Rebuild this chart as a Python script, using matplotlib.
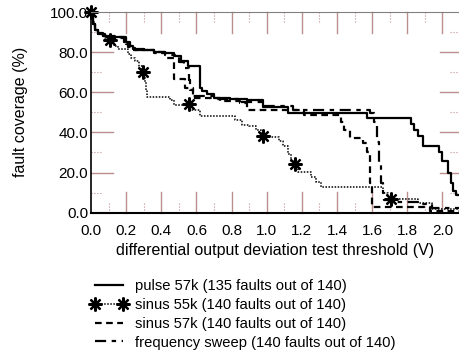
import numpy as np
import matplotlib
matplotlib.use("Agg")
import matplotlib.pyplot as plt
import matplotlib.transforms as mtransforms

plt.rcParams['font.family'] = ['Liberation Sans', 'DejaVu Sans']

# pulse 57k (solid)
pulse_x = [0, 0.01, 0.02, 0.04, 0.07, 0.11, 0.2, 0.22, 0.24, 0.3, 0.36, 0.42, 0.47, 0.51,
           0.55, 0.62, 0.63, 0.66, 0.7, 0.79, 0.89, 0.98, 1.12, 1.57, 1.82, 1.84, 1.86,
           1.89, 1.98, 2.0, 2.03, 2.05, 2.06, 2.08, 2.1]
pulse_y = [100, 94, 91, 89, 88, 87.5, 85, 83, 81.5, 81, 80, 79.5, 78, 75.5,
           73, 62, 60.5, 59, 57, 56.7, 56, 52.7, 49.7, 47, 44, 41.3, 38,
           33, 30, 26, 20, 15, 11, 9, 9]

# sinus 55k (dotted, stars)
s55_x = [0, 0.01, 0.02, 0.04, 0.08, 0.11, 0.13, 0.155, 0.21, 0.23, 0.25, 0.27, 0.29, 0.3,
         0.305, 0.31, 0.317, 0.45, 0.47, 0.56, 0.62, 0.82, 0.86, 0.9, 0.94, 0.97, 1.02,
         1.07, 1.095, 1.12, 1.14, 1.16, 1.18, 1.25, 1.28, 1.31, 1.66, 1.69, 1.71, 1.86,
         1.94, 2.1]
s55_y = [100, 95, 91, 89, 87, 85.5, 83, 81.4, 79, 77, 75.5, 73, 70.3, 68,
         65, 61, 57.5, 56.3, 53.8, 51.3, 48.3, 46.3, 43.8, 43, 41.3, 38.3, 37.5,
         35.5, 33, 29, 26, 24.3, 20.5, 18, 15.5, 12.7, 10, 8, 6.7, 4.7,
         1.7, 1.7]
star_x = [0.0, 0.11, 0.295, 0.56, 0.98, 1.16, 1.71]
star_y = [100, 85.8, 70.3, 54, 38.3, 24.3, 6.8]

# sinus 57k (dashed)
s57_x = [0, 0.01, 0.02, 0.04, 0.08, 0.13, 0.2, 0.22, 0.25, 0.36, 0.43, 0.47, 0.535, 0.58,
         0.735, 0.85, 0.89, 1.21, 1.42, 1.44, 1.475, 1.55, 1.57, 1.59, 1.6, 1.93, 2.1]
s57_y = [100, 94, 91, 89, 88, 87, 84, 82, 81, 79.5, 77, 66.5, 62.2, 57.2,
         55.5, 54.7, 51.3, 48.8, 45, 41, 37.2, 34.8, 30, 15, 3, 1, 1]

# frequency sweep (dash-dot)
sweep_x = [0, 0.01, 0.02, 0.04, 0.07, 0.12, 0.19, 0.21, 0.24, 0.36, 0.42, 0.5, 0.53, 0.555,
           0.565, 0.58, 0.7, 0.85, 0.98, 1.15, 1.59, 1.61, 1.63, 1.64, 1.65, 1.66, 1.67,
           1.7, 1.88, 1.94, 2.1]
sweep_y = [100, 95, 92, 89.5, 88, 87.5, 85, 82.5, 81, 80, 78.5, 75, 72, 66,
           61, 58, 56.7, 55, 53, 51.3, 49.7, 45, 35, 25, 15, 10, 6.5,
           5.5, 4.5, 2.2, 2.2]

labels = ["pulse 57k (135 faults out of 140)",
          "sinus 55k (140 faults out of 140)",
          "sinus 57k (140 faults out of 140)",
          "frequency sweep (140 faults out of 140)"]

fig = plt.figure(figsize=(4.6, 3.53), dpi=100)
ax = fig.add_axes([0.198, 0.3975, 0.802, 0.5685])

tick_c = '#bc8f8f'
ax.set_xlim(0, 2.1)
ax.set_ylim(0, 100)

# major/minor tick positions
xmaj = np.arange(0.2, 2.01, 0.2)
xmin = np.arange(0.1, 2.01, 0.2)
ymaj = np.arange(20, 81, 20)
ymin = np.arange(10, 91, 20)
ax.set_xticks(np.arange(0, 2.01, 0.2))
ax.set_yticks(np.arange(0, 101, 20))
ax.set_xticklabels(["%.1f" % v for v in np.arange(0, 2.01, 0.2)])
ax.set_yticklabels(["%.1f" % v for v in np.arange(0, 101, 20)])
ax.tick_params(length=0, labelsize=11)
ax.tick_params(axis='x', pad=8)
ax.tick_params(axis='y', pad=2)

# hand drawn inward ticks (major solid, minor dotted)
tx = mtransforms.blended_transform_factory(ax.transData, ax.transAxes)
ty = mtransforms.blended_transform_factory(ax.transAxes, ax.transData)
for v in xmaj:
    ax.plot([v, v], [0, 0.105], color=tick_c, lw=1, transform=tx, clip_on=False)
    ax.plot([v, v], [1, 0.895], color=tick_c, lw=1, transform=tx, clip_on=False)
for v in xmin:
    ax.plot([v, v], [0, 0.055], color=tick_c, lw=0.8, ls=':', transform=tx)
    ax.plot([v, v], [1, 0.945], color=tick_c, lw=0.8, ls=':', transform=tx)
for v in ymaj:
    ax.plot([0, 0.06], [v, v], color=tick_c, lw=1, transform=ty)
    ax.plot([1, 0.945], [v, v], color=tick_c, lw=1, transform=ty)
for v in ymin:
    ax.plot([0, 0.03], [v, v], color=tick_c, lw=0.8, ls=':', transform=ty)
    ax.plot([1, 0.97], [v, v], color=tick_c, lw=0.8, ls=':', transform=ty)
ax.plot([0, 0.06], [0, 0], color=tick_c, lw=1.5, transform=ty, clip_on=False)

ax.spines['top'].set_color('#808080')
ax.spines['right'].set_visible(False)
ax.spines['left'].set_linewidth(1.2)
ax.spines['bottom'].set_linewidth(1.5)

l1, = ax.plot(pulse_x, pulse_y, drawstyle='steps-post', color='black', lw=1.6)
l2, = ax.plot(s55_x, s55_y, drawstyle='steps-post', color='black', lw=1.1, ls=(0, (1, 1)))
ax.plot(star_x, star_y, ls='none', marker=(8, 2, 0), ms=10, mew=1.6, color='black',
        clip_on=False)
l3, = ax.plot(s57_x, s57_y, drawstyle='steps-post', color='black', lw=1.6, ls=(0, (3, 2)))
l4, = ax.plot(sweep_x, sweep_y, drawstyle='steps-post', color='black', lw=1.6,
              ls=(0, (5, 2.5, 2, 2.5)))

h2 = matplotlib.lines.Line2D([], [], color='black', lw=1.1, ls=(0, (1, 1)),
                             marker=(8, 2, 0), ms=10, mew=1.6)

ax.set_xlabel("differential output deviation test threshold (V)", fontsize=11.5, labelpad=4)
ax.set_ylabel("fault coverage (%)", fontsize=11.5, labelpad=16)

fig.legend([l1, h2, l3, l4], labels, loc='upper left', bbox_to_anchor=(0.185, 0.225),
           frameon=False, fontsize=10.6, numpoints=2, handlelength=2.5,
           handletextpad=0.5, labelspacing=0.32, borderaxespad=0)

fig.savefig("out.png", dpi=100)
